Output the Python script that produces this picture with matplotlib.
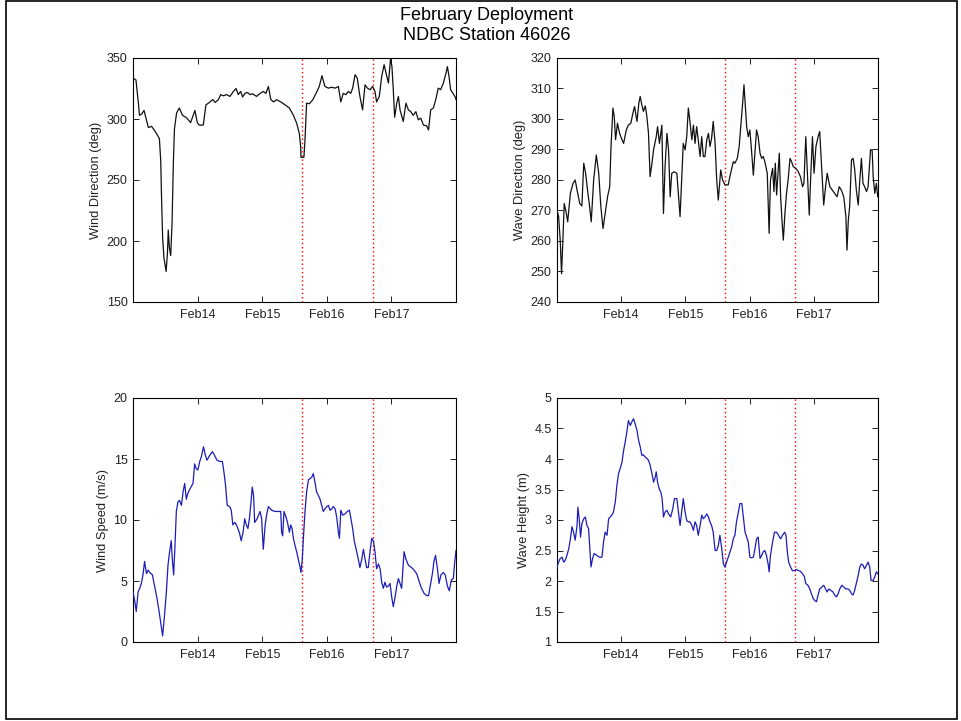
import matplotlib

matplotlib.use("Agg")
import matplotlib.pyplot as plt
from matplotlib.patches import Rectangle
from matplotlib.ticker import FormatStrFormatter

plt.rcParams["font.family"] = ["Liberation Sans", "DejaVu Sans"]

# time axis: hours since Feb 13 00:00
X_MAX = 120
day_ticks = [24, 48, 72, 96]
day_labels = ["Feb14", "Feb15", "Feb16", "Feb17"]
event_hours = [62.9, 89.0]  # red dotted markers

wind_dir_hours = [0, 1.1, 2.0, 2.4, 3.2, 4.1, 4.8, 5.7, 6.9, 8.2, 9.8, 10.3, 10.6, 11.0, 11.5, 12.3, 12.8,
                  13.1, 13.5, 14.0, 14.5, 15.0, 15.4, 16.2, 17.2, 18.4, 19.9, 21.4, 23.0, 23.9, 24.6, 26.1,
                  27.1, 28.4, 29.6, 30.5, 31.7, 32.6, 33.5, 34.8, 36.0, 37.3, 38.3, 39.1, 40.0, 40.7, 41.6,
                  42.5, 43.5, 44.4, 45.9,
                  47.2, 48.4, 49.4, 50.3, 51.2, 52.2, 53.4, 54.9, 56.5, 58.1, 59.6, 60.8, 61.8, 62.3, 62.4,
                  63.5, 63.9, 64.5, 65.5, 66.8, 68.0, 69.2, 70.2, 71.3, 72.6, 73.8, 75.1, 76.3, 77.2, 78.1,
                  79.1, 80.0, 80.9, 81.6, 82.5, 83.3, 84.3, 85.3, 86.2, 87.1, 88.1, 89.0, 89.9, 90.5, 91.5,
                  92.4, 93.3, 94.0, 94.9, 95.7, 96.2, 96.7, 97.2, 98.0, 98.6, 99.2, 100.4, 101.4, 102.3,
                  103.2, 104.1, 105.1, 106.0, 106.9, 107.9, 109.1, 109.8, 110.6, 111.6, 112.6, 113.4, 114.3,
                  115.3, 116.3, 116.8, 117.4, 118.0, 119.6, 120.0]
wind_dir = [333.6, 332, 313, 303, 304, 307, 301, 293, 294, 290, 284, 266, 236, 203, 186, 175, 190, 209, 195,
            188, 214, 264, 292, 305, 309, 303, 301, 297, 307, 297, 295, 295, 311.6, 313.6, 316, 313.6, 315.8,
            320, 319, 320, 318.5, 322.6, 325, 320, 322.6, 318, 321, 321.8, 320, 320.7, 318.5,
            321, 322.6, 321, 326.7, 316, 314, 315.8, 314, 311.6, 309, 303, 296.6, 288, 277, 268.6, 268.6,
            283, 313, 312.5, 315.8, 321, 326.7, 335.5, 326.7, 325.3, 326, 325.3, 326.7, 314, 321, 320,
            322.6, 321, 325.3, 336.3, 333.6, 318.5, 307.5, 328, 325.3, 324, 326.7, 322.6, 314, 318.5, 335,
            344.5, 337.7, 329.5, 350, 343, 324, 301.5, 313, 318.5, 307.5, 298, 313, 307.5, 306, 303, 306,
            299.3, 300.7, 295, 294.4, 291, 307.5, 309, 317, 325.3, 324, 329.5, 337.7, 343, 335, 324, 318.5,
            316]

wave_dir_hours = [0, 0.6, 1.2, 1.7, 2.2, 2.7, 3.5, 4.0, 4.4, 5.0, 6.0, 6.8, 7.5, 8.5, 9.3, 10.0, 10.7, 11.4,
                  12.2, 12.8, 13.7, 14.7, 15.6, 16.4, 17.2, 18.0, 18.9, 19.7, 20.2, 20.9, 21.4, 21.9, 22.6,
                  23.4, 24.3, 24.9, 25.9, 26.7, 27.6, 28.4, 29.0, 29.9, 30.6, 31.1, 31.7, 32.3, 33.0, 33.6,
                  34.2, 34.8, 35.5, 36.1, 37.1, 37.6, 38.3, 39.2, 39.8, 40.4, 41.1, 41.7, 42.3, 42.9, 43.8,
                  44.8,
                  46.0, 46.6, 47.2, 47.9, 48.5, 49.1, 49.7, 50.4, 51.0, 51.6, 52.2, 52.8, 53.5, 54.1, 54.7,
                  55.3, 56.0, 56.6, 57.2, 57.8, 58.4, 59.1, 59.7, 60.3, 61.2, 61.9, 62.8, 64.0, 64.9, 65.9,
                  66.5, 67.4, 68.1, 68.8, 69.4, 69.9, 70.4, 70.9, 71.5, 72.1, 72.7, 73.4, 74.0, 74.6, 75.2,
                  75.9, 76.5, 77.1, 77.7, 78.6, 79.3, 79.8, 80.6, 81.1, 81.6, 82.1, 82.6, 83.1, 83.6, 84.1,
                  84.6, 85.2, 85.8, 86.4, 87.1, 87.7, 88.3, 89.3, 90.2, 91.0, 91.8, 92.3, 93.0, 93.6, 94.3,
                  94.9, 95.5, 96.1, 96.8, 97.6, 98.2, 98.9, 99.7, 100.4, 101.0, 102.0, 102.9, 103.8, 104.7,
                  105.5, 106.3, 107.2, 108.0, 108.4, 108.9, 109.4, 110.1, 110.7, 111.3, 111.9, 112.6, 113.2,
                  113.8, 114.4, 115.0, 115.7, 116.3, 117.2, 117.8, 118.2, 118.8, 119.4, 119.9]
wave_dir = [270.1, 268, 260.3, 249.3, 260.3, 272.3, 269, 266.3, 270.1, 275.6, 278.9, 280, 276.7, 272.3,
            271.5, 285.5, 282.2, 276.7, 271.2, 266.3, 280, 288.2, 282.2, 271.2, 264.1, 269, 274.5, 277.8,
            291, 303.6, 300.8, 293.2, 298.6, 295.3, 293.2, 292, 296.4, 298, 298.6, 302, 304.1, 299.2,
            305.2, 307.4, 304.7, 302.5, 304.3, 300.8, 295.3, 281.1, 285.5, 289.9, 294.2, 297.5, 292, 298,
            269, 284.4, 295.3, 289.9, 274.5, 282.2, 282.7, 282.2,
            268, 280, 292, 289.9, 294.2, 303.6, 299.2, 293.2, 298, 292, 297.5, 293.2, 287.7, 294.2, 287.7,
            287.7, 293.2, 295.3, 291, 293.7, 299.2, 292, 280, 273.4, 283.3, 280, 278.4, 278.4, 282.2, 286,
            285.5, 287.1, 291, 298.6, 305.2, 311.2, 304.1, 297.5, 294.2, 296.4, 289.9, 281.6, 288.8, 296.4,
            294.2, 288.8, 287.1, 287.7, 286, 282.2, 262.5, 280, 283.8, 276.2, 285.5, 275.1, 282.2, 288.8,
            274.5, 266.8, 260.3, 269, 275.6, 280, 287.1, 286, 284.4, 283.8, 282.7, 281.1, 277.8, 278.9,
            294.2, 282.2, 268.5, 282.2, 294.2, 282.2, 291, 294.2, 295.9, 284.4, 271.8, 277.8, 282.2, 277.8,
            276.7, 275.6, 274.5, 277.8, 276.7, 274.5, 268, 257, 266.8, 271.2, 286.6, 287.1, 283.3, 276.7,
            271.8, 280, 287.1, 278.9, 277.8, 276.2, 277.8, 289.9, 289.9, 281.1, 275.6, 278.9, 274.5]

wind_spd_hours = [0, 0.7, 1.2, 1.9, 2.5, 3.1, 3.7, 4.3, 5.0, 5.6, 6.2, 7.2, 8.0, 8.9, 9.7, 10.4, 11.0, 11.6,
                  12.4, 13.0, 13.6, 14.2, 14.6, 15.1, 15.6, 16.1, 16.7, 17.3, 18.0, 18.6, 19.2, 19.8, 20.4,
                  21.3, 22.3, 22.9, 23.5, 24.1, 24.8, 25.4, 26.2, 26.9, 27.5, 28.5, 29.5, 30.3, 31.2, 32.2,
                  33.2, 33.8, 34.4, 35.0, 35.9, 36.5, 37.1, 37.8, 38.4, 39.0, 39.6, 40.2, 40.9, 41.5, 42.1,
                  42.7, 43.3, 43.9, 44.3, 44.8, 45.2, 46.1,
                  47.2, 47.8, 48.4, 49.1, 49.7, 50.3, 51.5, 52.8, 54.0, 54.9, 55.2, 55.6, 56.1, 56.9, 57.4,
                  58.1, 58.6, 59.1, 59.6, 60.2, 60.8, 61.4, 62.1, 62.4, 62.9, 63.3, 63.9, 64.5, 65.2, 65.8,
                  66.4, 67.0, 67.6, 68.2, 68.9, 69.5, 70.1, 70.7, 71.3, 72.0, 72.6, 73.2, 73.8, 74.4, 75.1,
                  75.7, 76.3, 76.7, 77.2, 77.9, 78.8, 79.6, 80.4, 80.9, 81.6, 82.2, 83.1, 83.7, 84.3, 85.0,
                  85.6, 86.2, 86.8, 87.4, 88.1, 88.7, 89.3, 89.9, 90.5, 91.2, 91.8, 92.4, 93.0, 93.6, 94.2,
                  94.9, 95.5, 96.1, 96.7, 97.3, 98.0, 98.6, 99.2, 99.8, 100.7, 101.4, 102.3, 103.5, 104.4,
                  105.4, 106.4, 107.2, 108.1, 109.1, 109.8, 110.6, 111.3, 111.8, 112.4, 113.1, 113.7, 114.4,
                  115.3, 116.0, 116.8, 117.5, 118.3, 119.0, 119.5, 120.0]
wind_spd = [4.1, 3.3, 2.5, 4.1, 4.4, 4.8, 5.5, 6.6, 5.6, 5.9, 5.7, 5.5, 4.6, 3.6, 2.5, 1.4, 0.5, 1.9, 4.1,
            6.3, 7.4, 8.3, 6.8, 5.5, 7.9, 10.7, 11.5, 11.6, 11.2, 12.3, 13.0, 11.7, 12.2, 12.6, 13.0, 14.6,
            14.2, 14.1, 14.8, 15.2, 16.0, 15.3, 14.9, 15.3, 15.6, 15.3, 14.9, 14.8, 14.8, 13.9, 12.8, 11.2,
            11.1, 10.8, 9.6, 9.8, 9.6, 9.3, 8.9, 8.3, 9.0, 10.1, 9.6, 9.3, 10.2, 11.6, 12.7, 12.0, 9.8, 10.1,
            10.7, 10.1, 7.6, 9.6, 10.5, 11.1, 10.8, 10.7, 10.7, 10.7, 9.0, 8.7, 10.7, 10.2, 9.8, 9.0, 9.6,
            9.3, 8.5, 7.9, 7.4, 6.8, 6.1, 5.7, 6.8, 8.5, 10.7, 12.3, 13.3, 13.4, 13.5, 13.8, 13.1, 12.3,
            12.0, 11.7, 11.2, 10.7, 10.9, 11.1, 11.2, 10.8, 10.9, 11.1, 10.9, 10.2, 9.0, 8.5, 10.8, 10.4,
            10.5, 10.7, 10.8, 10.2, 9.3, 8.3, 7.4, 6.8, 6.1, 6.8, 7.6, 6.8, 6.1, 6.1, 7.5, 8.5, 8.3, 7.4,
            6.0, 6.4, 6.0, 4.9, 4.4, 4.9, 4.5, 4.6, 4.8, 3.7, 2.9, 3.6, 4.6, 5.2, 4.8, 4.4, 7.4, 6.8, 6.3,
            6.1, 5.9, 5.6, 4.9, 4.4, 4.0, 3.8, 3.8, 4.8, 5.7, 6.6, 7.1, 6.0, 4.8, 5.5, 5.7, 5.5, 4.6, 4.2,
            5.1, 5.2, 6.5, 7.5]

wave_ht_hours = [0, 0.6, 1.2, 1.9, 2.5, 3.1, 3.7, 4.4, 5.0, 5.6, 6.2, 6.8, 7.5, 7.8, 8.3, 8.8, 9.3, 10.0,
                 10.6, 11.2, 11.8, 12.2, 12.7, 13.3, 13.9, 14.9, 15.9, 16.8, 17.4, 18.0, 18.7, 19.3, 19.9,
                 20.5, 21.1, 21.8, 22.4, 23.0, 23.6, 24.3, 24.9, 25.5, 26.1, 26.7, 27.4, 28.0, 28.6, 29.2,
                 29.9, 30.5, 31.1, 31.7, 32.3, 33.0, 33.6, 34.2, 34.8, 35.5, 36.1, 36.7, 37.1, 37.6, 38.2,
                 38.8, 39.3, 39.8, 40.4, 41.1, 41.7, 42.5, 43.3, 43.9, 44.8, 45.4,
                 46.0, 46.6, 47.2, 47.9, 48.5, 49.1, 49.7, 50.4, 51.0, 51.6, 52.2, 52.8, 53.5, 54.1, 54.7,
                 55.3, 56.0, 56.6, 57.2, 57.8, 58.4, 59.1, 59.7, 60.3, 60.9, 61.6, 62.2, 62.8, 63.4, 64.0,
                 64.7, 65.3, 65.9, 66.5, 67.1, 67.8, 68.4, 69.1, 69.6, 70.3, 70.9, 71.5, 72.1, 72.7, 73.4,
                 74.0, 74.6, 75.2, 75.9, 76.5, 77.1, 77.7, 78.3, 79.0, 79.3, 79.8, 80.6, 81.3, 82.1, 82.8,
                 83.6, 84.3, 85.1, 85.6, 86.1, 86.6, 87.3, 88.0, 88.8, 89.5, 90.3, 91.0, 91.8, 92.5, 93.0,
                 93.8, 94.5, 95.1, 95.8, 96.4, 97.0, 97.6, 98.2, 99.0, 99.7, 100.4, 101.0, 101.6, 102.2,
                 103.2, 103.8, 104.5, 105.1, 105.7, 106.5, 107.2, 108.0, 108.7, 109.4, 110.1, 110.7, 111.3,
                 111.9, 112.6, 113.2, 113.8, 114.4, 115.0, 115.7, 116.3, 116.9, 117.4, 118.2, 118.8, 119.4,
                 119.9]
wave_ht = [2.23, 2.31, 2.37, 2.39, 2.31, 2.34, 2.42, 2.53, 2.69, 2.89, 2.80, 2.67, 2.91, 3.21, 3.02, 2.72,
           2.94, 3.02, 3.05, 2.91, 2.86, 2.58, 2.23, 2.37, 2.45, 2.42, 2.39, 2.39, 2.64, 2.80, 2.75, 3.02,
           3.05, 3.08, 3.13, 3.30, 3.57, 3.76, 3.84, 3.95, 4.14, 4.28, 4.44, 4.63, 4.55, 4.61, 4.66, 4.58,
           4.47, 4.31, 4.20, 4.06, 4.07, 4.03, 4.01, 3.98, 3.90, 3.76, 3.62, 3.70, 3.79, 3.62, 3.51, 3.46,
           3.35, 3.05, 3.13, 3.16, 3.10, 3.05, 3.19, 3.35, 3.35, 3.13,
           2.91, 3.13, 3.35, 3.13, 2.99, 2.97, 2.97, 2.91, 2.83, 2.97, 2.91, 2.75, 2.91, 3.08, 3.02, 3.05,
           3.10, 3.05, 2.97, 2.91, 2.80, 2.50, 2.50, 2.58, 2.75, 2.53, 2.28, 2.23, 2.31, 2.39, 2.48, 2.56,
           2.69, 2.75, 2.97, 3.13, 3.27, 3.27, 3.08, 2.80, 2.72, 2.64, 2.39, 2.38, 2.39, 2.53, 2.69, 2.72,
           2.37, 2.42, 2.48, 2.50, 2.42, 2.26, 2.15, 2.42, 2.64, 2.80, 2.80, 2.75, 2.69, 2.75, 2.80, 2.75,
           2.48, 2.31, 2.23, 2.17, 2.17, 2.19, 2.17, 2.16, 2.12, 2.07, 1.96, 1.93, 1.87, 1.79, 1.71, 1.68,
           1.66, 1.77, 1.87, 1.90, 1.93, 1.87, 1.82, 1.87, 1.85, 1.82, 1.77, 1.74, 1.79, 1.87, 1.93, 1.90,
           1.87, 1.87, 1.85, 1.79, 1.77, 1.85, 1.96, 2.09, 2.23, 2.28, 2.26, 2.20, 2.26, 2.31, 2.23, 2.01,
           2.01, 2.07, 2.15, 2.12]

BLACK = "#111111"
BLUE = "#1c1cb8"

W, H = 962, 721
fig = plt.figure(figsize=(W / 100, H / 100), dpi=100)


def px_axes(left, top, right, bottom):
    return fig.add_axes([left / W, 1 - bottom / H, (right - left) / W, (bottom - top) / H])


panels = [
    # (box, hours, values, colour, ylim, yticks, ylabel)
    ((133, 58, 456, 302), wind_dir_hours, wind_dir, BLACK, (150, 350), range(150, 351, 50),
     "Wind Direction (deg)"),
    ((557, 58, 878, 302), wave_dir_hours, wave_dir, BLACK, (240, 320), range(240, 321, 10),
     "Wave Direction (deg)"),
    ((133, 398, 456, 642), wind_spd_hours, wind_spd, BLUE, (0, 20), range(0, 21, 5),
     "Wind Speed (m/s)"),
    ((557, 398, 878, 642), wave_ht_hours, wave_ht, BLUE, (1, 5), [1 + 0.5 * i for i in range(9)],
     "Wave Height (m)"),
]

for box, hrs, vals, col, ylim, yticks, ylabel in panels:
    ax = px_axes(*box)
    ax.plot(hrs, vals, color=col, linewidth=0.9, zorder=3)
    for h in event_hours:
        ax.axvline(h, color="red", linestyle=(0, (1, 2)), linewidth=1.0, zorder=2)
    ax.set_xlim(0, X_MAX)
    ax.set_ylim(*ylim)
    ax.set_xticks(day_ticks)
    ax.set_xticklabels(day_labels)
    ax.set_yticks(list(yticks))
    ax.yaxis.set_major_formatter(FormatStrFormatter("%g"))
    ax.tick_params(direction="in", length=4, width=0.7, top=True, right=True, labelsize=9,
                   colors="#222222")
    ax.tick_params(axis="x", pad=5)
    ax.tick_params(axis="y", pad=4)
    ax.set_ylabel(ylabel, fontsize=9.3, color="#222222", labelpad=3)
    for s in ax.spines.values():
        s.set_linewidth(0.8)

fig.text(487 / W, 1 - 15 / H, "February Deployment", ha="center", va="center", fontsize=13)
fig.text(487 / W, 1 - 36 / H, "NDBC Station 46026", ha="center", va="center", fontsize=13)

# window frame around the figure
fig.add_artist(Rectangle((6 / W, 2 / H), 951 / W, 718 / H, transform=fig.transFigure,
                         fill=False, edgecolor="black", linewidth=1.2))

fig.savefig("out.png", dpi=100)
